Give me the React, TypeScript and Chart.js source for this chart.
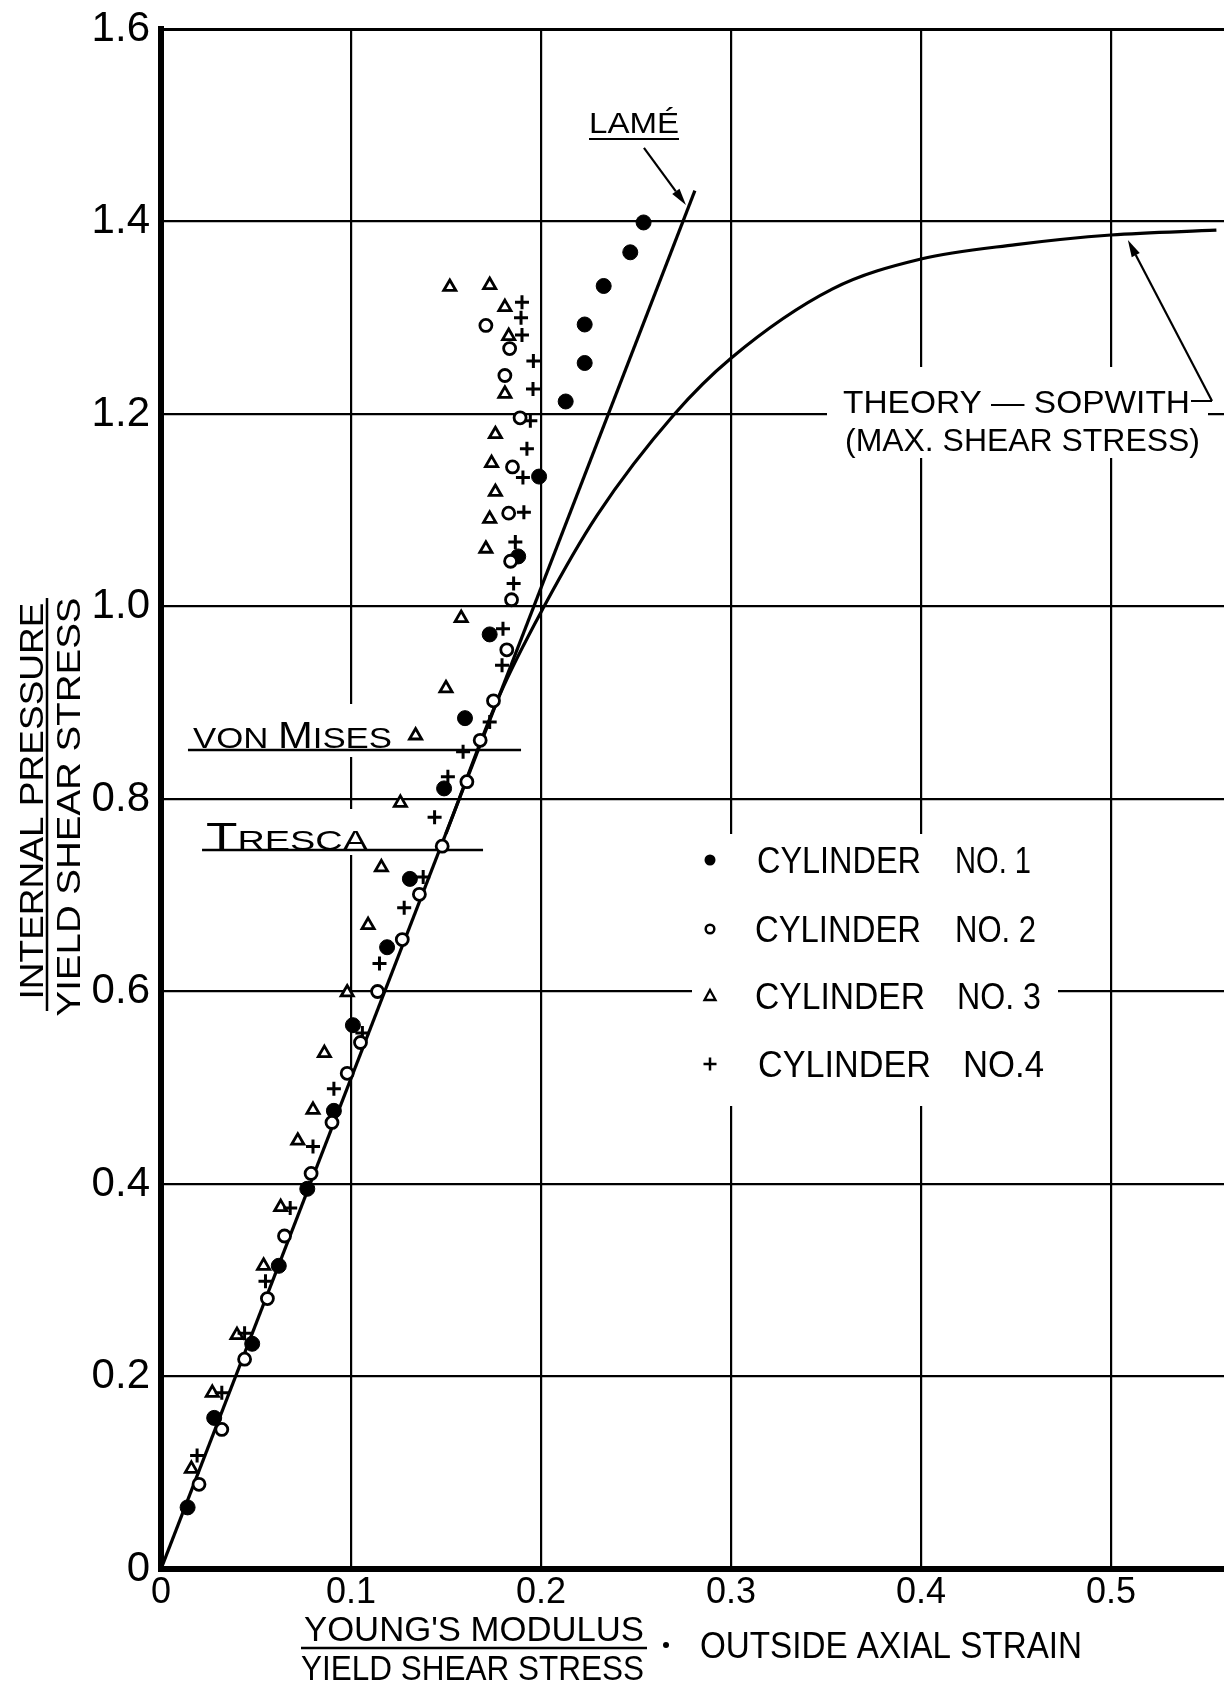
import React, { useEffect, useRef } from "react";
import { Chart, registerables } from "chart.js";

Chart.register(...registerables);

const FONT = '"Liberation Sans", Arial, sans-serif';
const CAP = 0.716; // cap height / em for Liberation Sans

// Axis ticks
const xTickValues = [0, 0.1, 0.2, 0.3, 0.4, 0.5];
const xTickLabels = ["0", "0.1", "0.2", "0.3", "0.4", "0.5"];
const yTickValues = [0, 0.2, 0.4, 0.6, 0.8, 1.0, 1.2, 1.4, 1.6];
const yTickLabels = ["0", "0.2", "0.4", "0.6", "0.8", "1.0", "1.2", "1.4", "1.6"];
const X_MAX = 0.5595;
const Y_MAX = 1.6;

// Cylinder No. 1 (filled circles)
const cyl1X = [0.014, 0.028, 0.048, 0.062, 0.077, 0.091, 0.101, 0.119, 0.131, 0.149, 0.16, 0.173, 0.188, 0.199, 0.213, 0.223, 0.223, 0.233, 0.247, 0.254];
const cyl1Y = [0.064, 0.157, 0.234, 0.315, 0.395, 0.476, 0.565, 0.646, 0.717, 0.811, 0.884, 0.971, 1.052, 1.135, 1.213, 1.253, 1.293, 1.333, 1.368, 1.399];

// Cylinder No. 2 (open circles)
const cyl2X = [0.02, 0.032, 0.044, 0.056, 0.065, 0.079, 0.09, 0.098, 0.105, 0.114, 0.127, 0.136, 0.148, 0.161, 0.168, 0.175, 0.182, 0.1845, 0.184, 0.183, 0.185, 0.189, 0.181, 0.1835, 0.171];
const cyl2Y = [0.088, 0.145, 0.218, 0.281, 0.346, 0.411, 0.464, 0.515, 0.547, 0.6, 0.654, 0.701, 0.751, 0.818, 0.861, 0.902, 0.955, 1.007, 1.047, 1.097, 1.145, 1.196, 1.24, 1.268, 1.292];

// Cylinder No. 3 (triangles)
const cyl3X = [0.016, 0.027, 0.04, 0.054, 0.063, 0.072, 0.08, 0.086, 0.098, 0.109, 0.116, 0.126, 0.134, 0.15, 0.158, 0.171, 0.173, 0.176, 0.174, 0.176, 0.181, 0.183, 0.181, 0.152, 0.173];
const cyl3Y = [0.104, 0.183, 0.243, 0.315, 0.376, 0.445, 0.477, 0.536, 0.599, 0.669, 0.729, 0.796, 0.866, 0.915, 0.988, 1.06, 1.091, 1.119, 1.149, 1.179, 1.221, 1.281, 1.311, 1.332, 1.334];

// Cylinder No. 4 (crosses)
const cyl4X = [0.019, 0.032, 0.044, 0.055, 0.068, 0.08, 0.091, 0.106, 0.115, 0.128, 0.138, 0.144, 0.151, 0.159, 0.173, 0.1795, 0.18, 0.1856, 0.1865, 0.191, 0.1905, 0.1926, 0.1944, 0.1958, 0.196, 0.19, 0.1895, 0.19];
const cyl4Y = [0.118, 0.183, 0.245, 0.299, 0.375, 0.439, 0.499, 0.557, 0.629, 0.687, 0.719, 0.781, 0.823, 0.849, 0.88, 0.939, 0.977, 1.024, 1.067, 1.098, 1.134, 1.164, 1.193, 1.226, 1.255, 1.282, 1.3, 1.316];

// Lamé elastic line
const lameX = [0, 0.281];
const lameY = [0, 1.432];

// Sopwith theory (max. shear stress)
const sopwithX = [0.15, 0.178, 0.2016, 0.2296, 0.2703, 0.3, 0.3535, 0.4, 0.45, 0.5, 0.5555];
const sopwithY = [0.764, 0.907, 1.0, 1.095, 1.2, 1.258, 1.33, 1.361, 1.376, 1.386, 1.391];

// Yield levels
const vonMisesX = [0.0142, 0.1895];
const vonMisesY = [0.851, 0.851];
const trescaX = [0.0216, 0.1695];
const trescaY = [0.747, 0.747];

const pts = (xs: number[], ys: number[]) => xs.map((x, i) => ({ x, y: ys[i] }));

function label(
  ctx: CanvasRenderingContext2D,
  text: string,
  x: number,
  y: number,
  size: number,
  width: number,
  align: CanvasTextAlign = "left",
  rotate = 0
) {
  ctx.save();
  ctx.font = `${size}px ${FONT}`;
  const natural = ctx.measureText(text).width;
  ctx.translate(x, y);
  if (rotate) ctx.rotate(rotate);
  ctx.scale(width / natural, 1);
  ctx.fillStyle = "#000";
  ctx.textBaseline = "alphabetic";
  ctx.textAlign = align;
  ctx.fillText(text, 0, (size * CAP) / 2);
  ctx.restore();
}

// text where some letters are drawn larger (small-caps lettering)
function smallCaps(
  ctx: CanvasRenderingContext2D,
  segs: [string, number][],
  left: number,
  baseline: number,
  width: number
) {
  ctx.save();
  const widths = segs.map(([t, s]) => {
    ctx.font = `${s}px ${FONT}`;
    return ctx.measureText(t).width;
  });
  const total = widths.reduce((a, b) => a + b, 0);
  ctx.translate(left, baseline);
  ctx.scale(width / total, 1);
  ctx.fillStyle = "#000";
  ctx.textBaseline = "alphabetic";
  let x = 0;
  segs.forEach(([t, s], i) => {
    ctx.font = `${s}px ${FONT}`;
    ctx.fillText(t, x, 0);
    x += widths[i];
  });
  ctx.restore();
}

function line(ctx: CanvasRenderingContext2D, x1: number, y1: number, x2: number, y2: number, w: number) {
  ctx.save();
  ctx.strokeStyle = "#000";
  ctx.lineWidth = w;
  ctx.beginPath();
  ctx.moveTo(x1, y1);
  ctx.lineTo(x2, y2);
  ctx.stroke();
  ctx.restore();
}

function arrow(ctx: CanvasRenderingContext2D, x1: number, y1: number, x2: number, y2: number) {
  const a = Math.atan2(y2 - y1, x2 - x1);
  const len = 17;
  const hw = 4.5;
  const bx = x2 - Math.cos(a) * len;
  const by = y2 - Math.sin(a) * len;
  line(ctx, x1, y1, bx, by, 2.2);
  ctx.save();
  ctx.fillStyle = "#000";
  ctx.beginPath();
  ctx.moveTo(x2, y2);
  ctx.lineTo(bx - Math.sin(a) * hw, by + Math.cos(a) * hw);
  ctx.lineTo(bx + Math.sin(a) * hw, by - Math.cos(a) * hw);
  ctx.closePath();
  ctx.fill();
  ctx.restore();
}

const annotations = {
  id: "annotations",
  beforeDatasetsDraw(chart: any) {
    const ctx: CanvasRenderingContext2D = chart.ctx;
    const xs = chart.scales.x;
    const ys = chart.scales.y;
    const px = (v: number) => xs.getPixelForValue(v);
    const py = (v: number) => ys.getPixelForValue(v);

    // white ground under the lettering, interrupting the grid
    ctx.save();
    ctx.fillStyle = "#fff";
    ctx.fillRect(183, 704, 217, 53);
    ctx.fillRect(195, 809, 183, 46);
    ctx.fillRect(827, 367, 381, 91);
    ctx.fillRect(692, 834, 366, 272);
    ctx.restore();

    // yield criteria labels
    smallCaps(ctx, [["VON ", 30], ["M", 36], ["ISES", 30]], 193, 748, 199);
    smallCaps(ctx, [["T", 38], ["RESCA", 28]], 206, 850, 162);

    // Lamé label and leader
    label(ctx, "LAMÉ", 589, 123, 29, 90);
    line(ctx, 589, 139, 679, 139, 2);
    arrow(ctx, px(0.2542), py(1.4764), px(0.2763), py(1.4171));

    // Sopwith label and leader
    label(ctx, "THEORY — SOPWITH", 843, 402, 32, 347);
    label(ctx, "(MAX. SHEAR STRESS)", 845, 440, 31, 355);
    line(ctx, 1191, 401, px(0.5532), py(1.2135), 2);
    arrow(ctx, px(0.5532), py(1.2135), px(0.5089), py(1.3808));
  },
  afterDatasetsDraw(chart: any) {
    const ctx: CanvasRenderingContext2D = chart.ctx;
    const mx = 710;
    const rows = [860, 929, 996, 1064];
    ctx.save();
    ctx.fillStyle = "#000";
    ctx.strokeStyle = "#000";
    // filled circle
    ctx.beginPath();
    ctx.arc(mx, rows[0], 5.5, 0, Math.PI * 2);
    ctx.fill();
    // open circle
    ctx.lineWidth = 2.5;
    ctx.beginPath();
    ctx.arc(mx, rows[1], 4.3, 0, Math.PI * 2);
    ctx.stroke();
    // triangle
    ctx.lineWidth = 2.3;
    ctx.beginPath();
    ctx.moveTo(mx, rows[2] - 6);
    ctx.lineTo(mx + 5.5, rows[2] + 4);
    ctx.lineTo(mx - 5.5, rows[2] + 4);
    ctx.closePath();
    ctx.stroke();
    // cross
    ctx.lineWidth = 2.5;
    ctx.beginPath();
    ctx.moveTo(mx - 6.5, rows[3]);
    ctx.lineTo(mx + 6.5, rows[3]);
    ctx.moveTo(mx, rows[3] - 6.5);
    ctx.lineTo(mx, rows[3] + 6.5);
    ctx.stroke();
    ctx.restore();

    const names = [
      { c: [757, 164], n: "NO. 1", nl: [955, 76] },
      { c: [755, 166], n: "NO. 2", nl: [955, 81] },
      { c: [755, 170], n: "NO. 3", nl: [957, 84] },
      { c: [758, 173], n: "NO.4", nl: [963, 81] },
    ];
    names.forEach((r, i) => {
      label(ctx, "CYLINDER", r.c[0], rows[i], 36, r.c[1]);
      label(ctx, r.n, r.nl[0], rows[i], 36, r.nl[1]);
    });
  },
  afterDraw(chart: any) {
    const ctx: CanvasRenderingContext2D = chart.ctx;
    // y-axis title, a fraction read bottom-to-top
    label(ctx, "INTERNAL PRESSURE", 31, 801, 33.5, 397, "center", -Math.PI / 2);
    line(ctx, 47, 598, 47, 1011, 2.5);
    label(ctx, "YIELD SHEAR STRESS", 68, 807, 33.5, 419, "center", -Math.PI / 2);

    // x-axis title
    label(ctx, "YOUNG'S MODULUS", 304, 1628, 35, 340);
    line(ctx, 301, 1648, 647, 1648, 2.5);
    label(ctx, "YIELD SHEAR STRESS", 301, 1667, 35, 343);
    ctx.save();
    ctx.fillStyle = "#000";
    ctx.beginPath();
    ctx.arc(666, 1645, 3, 0, Math.PI * 2);
    ctx.fill();
    ctx.restore();
    label(ctx, "OUTSIDE AXIAL STRAIN", 700, 1645, 36, 382);
  },
};

export default function App() {
  const canvasRef = useRef<HTMLCanvasElement | null>(null);

  useEffect(() => {
    if (!canvasRef.current) return;
    const chart = new Chart(canvasRef.current, {
      type: "scatter",
      data: {
        datasets: [
          {
            label: "CYLINDER NO. 1",
            data: pts(cyl1X, cyl1Y),
            pointStyle: "circle",
            pointRadius: 7.5,
            pointBackgroundColor: "#000",
            pointBorderColor: "#000",
            pointBorderWidth: 1,
            showLine: false,
            order: 3,
          },
          {
            label: "CYLINDER NO. 2",
            data: pts(cyl2X, cyl2Y),
            pointStyle: "circle",
            pointRadius: 6,
            pointBackgroundColor: "#fff",
            pointBorderColor: "#000",
            pointBorderWidth: 2.8,
            showLine: false,
            order: 0,
          },
          {
            label: "CYLINDER NO. 3",
            data: pts(cyl3X, cyl3Y),
            pointStyle: "triangle",
            pointRadius: 7,
            pointBackgroundColor: "#fff",
            pointBorderColor: "#000",
            pointBorderWidth: 2.8,
            showLine: false,
            order: 2,
          },
          {
            label: "CYLINDER NO. 4",
            data: pts(cyl4X, cyl4Y),
            pointStyle: "cross",
            pointRadius: 7,
            pointBorderColor: "#000",
            pointBorderWidth: 3,
            showLine: false,
            order: 1,
          },
          {
            type: "line",
            label: "Lamé",
            data: pts(lameX, lameY),
            borderColor: "#000",
            borderWidth: 3.2,
            pointRadius: 0,
            fill: false,
            order: 10,
          } as any,
          {
            type: "line",
            label: "Sopwith",
            data: pts(sopwithX, sopwithY),
            borderColor: "#000",
            borderWidth: 3.2,
            pointRadius: 0,
            fill: false,
            cubicInterpolationMode: "monotone",
            order: 10,
          } as any,
          {
            type: "line",
            label: "Von Mises",
            data: pts(vonMisesX, vonMisesY),
            borderColor: "#000",
            borderWidth: 2.5,
            pointRadius: 0,
            fill: false,
            order: 11,
          } as any,
          {
            type: "line",
            label: "Tresca",
            data: pts(trescaX, trescaY),
            borderColor: "#000",
            borderWidth: 2.5,
            pointRadius: 0,
            fill: false,
            order: 11,
          } as any,
        ],
      },
      options: {
        responsive: false,
        animation: false,
        devicePixelRatio: 1,
        events: [],
        layout: { autoPadding: false, padding: { top: 29, right: 0, bottom: 0, left: 0 } },
        plugins: { legend: { display: false }, tooltip: { enabled: false } },
        scales: {
          x: {
            type: "linear",
            min: 0,
            max: X_MAX,
            afterFit: (s: any) => {
              s.height = 115;
              s.paddingLeft = 0;
              s.paddingRight = 0;
            },
            afterBuildTicks: (s: any) => {
              s.ticks = xTickValues.map((v) => ({ value: v }));
            },
            ticks: {
              callback: (_v: any, i: number) => xTickLabels[i],
              font: { family: FONT, size: 36 },
              color: "#000",
              padding: 2,
              maxRotation: 0,
              autoSkip: false,
            },
            grid: { color: "#000", lineWidth: 2.2, drawTicks: false },
            border: { color: "#000", width: 6 },
          },
          y: {
            type: "linear",
            min: 0,
            max: Y_MAX,
            afterFit: (s: any) => {
              s.width = 161;
              s.paddingTop = 0;
              s.paddingBottom = 0;
            },
            afterBuildTicks: (s: any) => {
              s.ticks = yTickValues.map((v) => ({ value: v }));
            },
            ticks: {
              callback: (_v: any, i: number) => yTickLabels[i],
              font: { family: FONT, size: 42 },
              color: "#000",
              padding: 11,
              autoSkip: false,
            },
            grid: {
              color: "#000",
              lineWidth: (c: any) => (c.tick && c.tick.value === Y_MAX ? 3 : 2.2),
              drawTicks: false,
            },
            border: { color: "#000", width: 6 },
          },
        },
      },
      plugins: [annotations],
    } as any);
    return () => chart.destroy();
  }, []);

  return (
    <div style={{ position: "absolute", left: 0, top: 0, width: 1224, height: 1684, background: "#fff" }}>
      <canvas ref={canvasRef} width={1224} height={1684} style={{ display: "block" }} />
    </div>
  );
}
